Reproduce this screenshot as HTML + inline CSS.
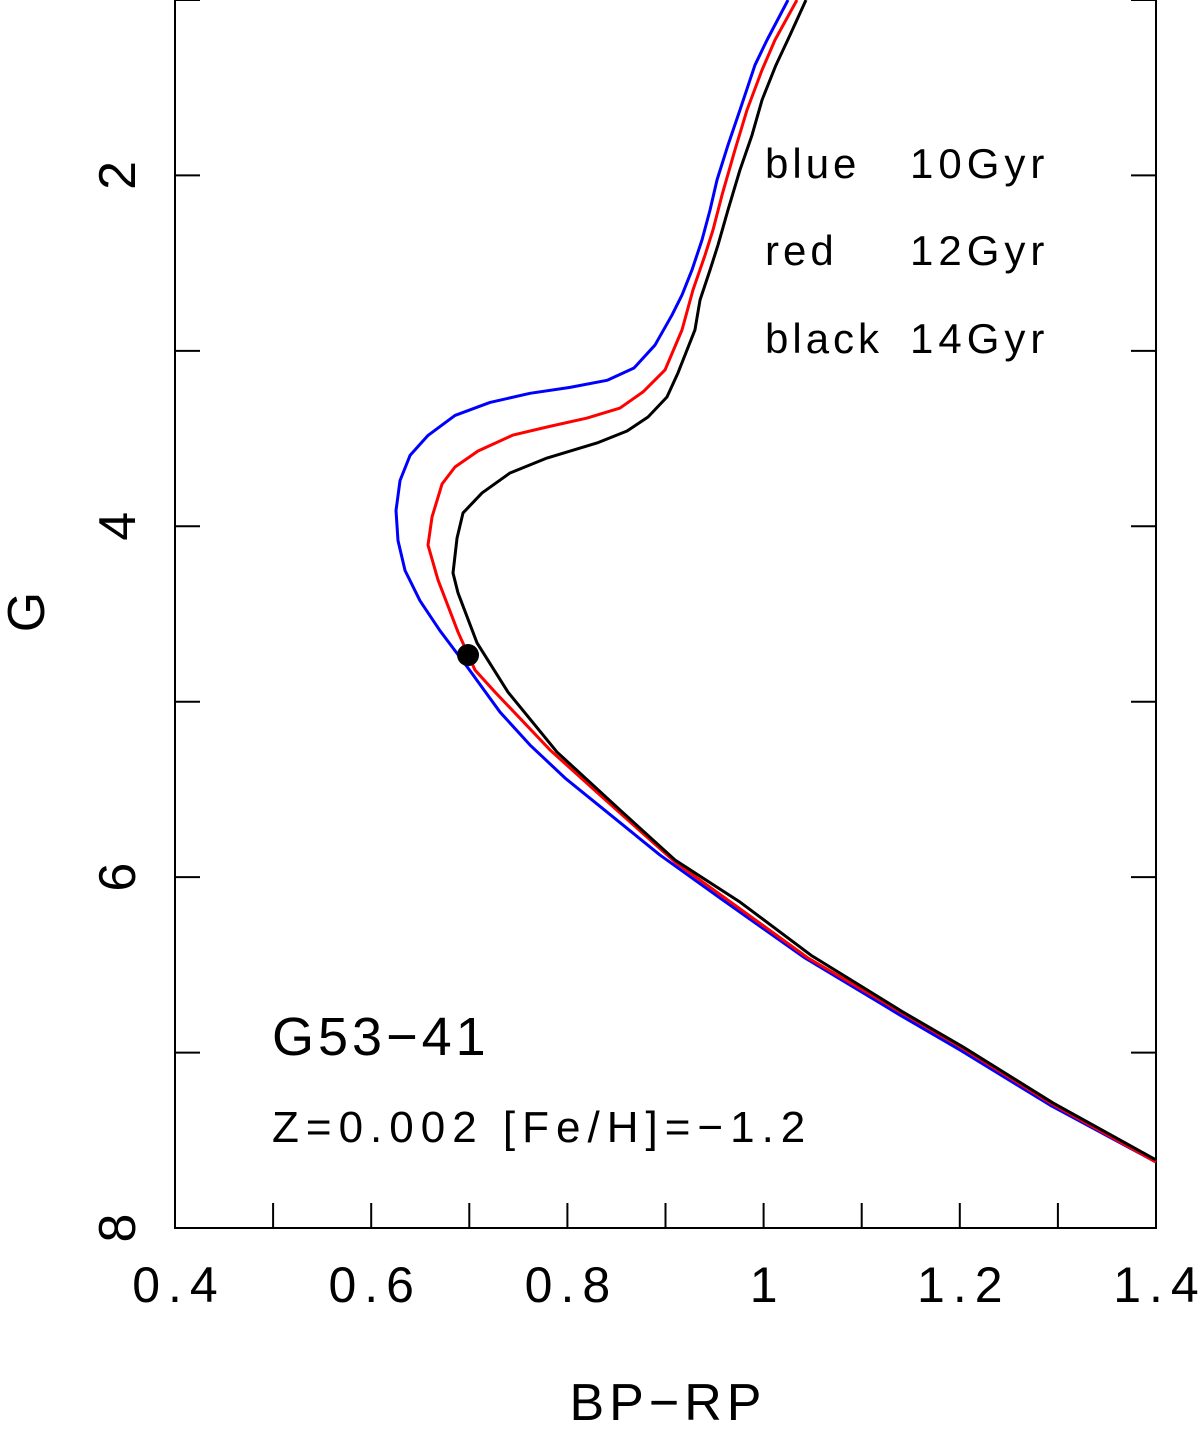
<!DOCTYPE html>
<html><head><meta charset="utf-8"><style>
html,body{margin:0;padding:0;background:#fff;}
svg text{font-family:"Liberation Sans",sans-serif;fill:#000;}
</style></head><body>
<svg id="chart" width="1200" height="1424" xmlns="http://www.w3.org/2000/svg">
<g id="plot"></g>
</svg>
<script>
const xTicks=[0.4,0.5,0.6,0.7,0.8,0.9,1.0,1.1,1.2,1.3,1.4];
const xLabels=["0.4","0.6","0.8","1","1.2","1.4"];
const xLabelVals=[0.4,0.6,0.8,1.0,1.2,1.4];
const yTicks=[1,2,3,4,5,6,7,8];
const yLabelVals=[2,4,6,8];
const yLabels=["2","4","6","8"];
const blueBP=[1.0249,1.0035,0.9912,0.9759,0.9637,0.9525,0.9454,0.9372,0.927,0.9168,0.9066,0.8893,0.8679,0.8404,0.8027,0.7619,0.7211,0.6854,0.6579,0.6396,0.6294,0.6253,0.6273,0.6345,0.6497,0.6701,0.6987,0.7313,0.7619,0.7976,0.8944,0.9556,1.0422,1.139,1.2002,1.2919,1.4];
const blueG=[1.0,1.228,1.371,1.627,1.827,2.026,2.197,2.368,2.539,2.682,2.796,2.967,3.098,3.168,3.208,3.242,3.294,3.368,3.482,3.596,3.739,3.910,4.081,4.252,4.424,4.595,4.808,5.059,5.247,5.435,5.874,6.119,6.461,6.786,6.985,7.299,7.624];
const redBP=[1.034,1.0116,0.9984,0.9831,0.9708,0.9576,0.9484,0.9403,0.928,0.9168,0.8995,0.8771,0.8536,0.82,0.7792,0.7445,0.7089,0.6854,0.6722,0.662,0.6579,0.6681,0.6885,0.7058,0.7262,0.7823,0.8332,0.9097,0.9606,1.0453,1.1411,1.2023,1.294,1.4];
const redG=[1.0,1.228,1.399,1.627,1.855,2.112,2.311,2.454,2.653,2.881,3.109,3.234,3.326,3.383,3.434,3.480,3.571,3.662,3.759,3.947,4.107,4.306,4.603,4.819,4.945,5.275,5.532,5.914,6.119,6.461,6.774,6.974,7.293,7.624];
const blackBP=[1.0432,1.0269,1.0126,0.9984,0.9882,0.9759,0.9637,0.9535,0.9454,0.9352,0.93,0.9127,0.9015,0.8822,0.8608,0.8302,0.7792,0.7415,0.713,0.6936,0.6875,0.6834,0.6885,0.7079,0.7394,0.7894,0.8536,0.9097,0.9759,1.0493,1.1421,1.2033,1.295,1.4];
const blackG=[1.0,1.2,1.371,1.570,1.770,1.969,2.197,2.397,2.539,2.710,2.881,3.126,3.263,3.377,3.457,3.525,3.611,3.696,3.810,3.924,4.067,4.266,4.380,4.665,4.945,5.287,5.617,5.902,6.142,6.449,6.769,6.968,7.287,7.612];
const starBP=[0.6987];
const starG=[4.734];

const NS="http://www.w3.org/2000/svg";
const L=175,R=1156,T=0,B=1228;
const X=v=>L+(v-0.4)/(1.0)*(R-L);
const Y=g=>T+(g-1)/(7)*(B-T);
const g=document.getElementById('plot');
function mk(tag,attrs){const e=document.createElementNS(NS,tag);for(const k in attrs)e.setAttribute(k,attrs[k]);g.appendChild(e);return e;}

const frame=mk('path',{d:`M${L},${T} V${B} H${R} V${T}`,fill:'none',stroke:'#000','stroke-width':2});



xTicks.forEach(v=>{const t=mk('line',{x1:X(v),x2:X(v),y1:B,y2:B-25,stroke:'#000','stroke-width':2});

});
yTicks.forEach(v=>{const t=mk('line',{x1:L,x2:L+25,y1:Y(v),y2:Y(v),stroke:'#000','stroke-width':2});


const t2=mk('line',{x1:R,x2:R-25,y1:Y(v),y2:Y(v),stroke:'#000','stroke-width':2});

});
xLabelVals.forEach((v,i)=>{const t=mk('text',{x:X(v)+4,y:1302,'font-size':50,'letter-spacing':8,'text-anchor':'middle'});t.textContent=xLabels[i];

});
yLabelVals.forEach((v,i)=>{const t=mk('text',{x:0,y:0,'font-size':52,'text-anchor':'middle',transform:`translate(135,${Y(v)}) rotate(-90)`});t.textContent=yLabels[i];

});

function series(xs,ys,color,name){
  const p=mk('polyline',{points:xs.map((v,i)=>X(v)+','+Y(ys[i])).join(' '),fill:'none',stroke:color,'stroke-width':3,'stroke-linejoin':'round'});
  
  
}
series(blueBP,blueG,'#0000ff','isochrone-10gyr');
series(redBP,redG,'#ff0000','isochrone-12gyr');
series(blackBP,blackG,'#000000','isochrone-14gyr');
starBP.forEach((v,i)=>{const c=mk('circle',{cx:X(v),cy:Y(starG[i]),r:11,fill:'#000'});

});

function txt(s,x,y,fs,ls,name,extra){const t=mk('text',Object.assign({x:x,y:y,'font-size':fs,'letter-spacing':ls},extra||{}));t.textContent=s;

return t;}
txt('blue',765,178,42,4,'legend-blue');txt('10Gyr',910,178,42,5,'legend-blue-age');
txt('red',765,265,42,4,'legend-red');txt('12Gyr',910,265,42,5,'legend-red-age');
txt('black',765,353,42,4,'legend-black');txt('14Gyr',910,353,42,5,'legend-black-age');
txt('G53−41',272,1055,54,4,'star-name');
txt('Z=0.002 [Fe/H]=−1.2',272,1142,44,7,'metallicity-label');
txt('BP−RP',668,1420,52,5,'x-axis-title',{'text-anchor':'middle'});
txt('G',0,0,52,0,'y-axis-title',{'text-anchor':'middle',transform:'translate(44,612) rotate(-90)'});
</script>
</body></html>
